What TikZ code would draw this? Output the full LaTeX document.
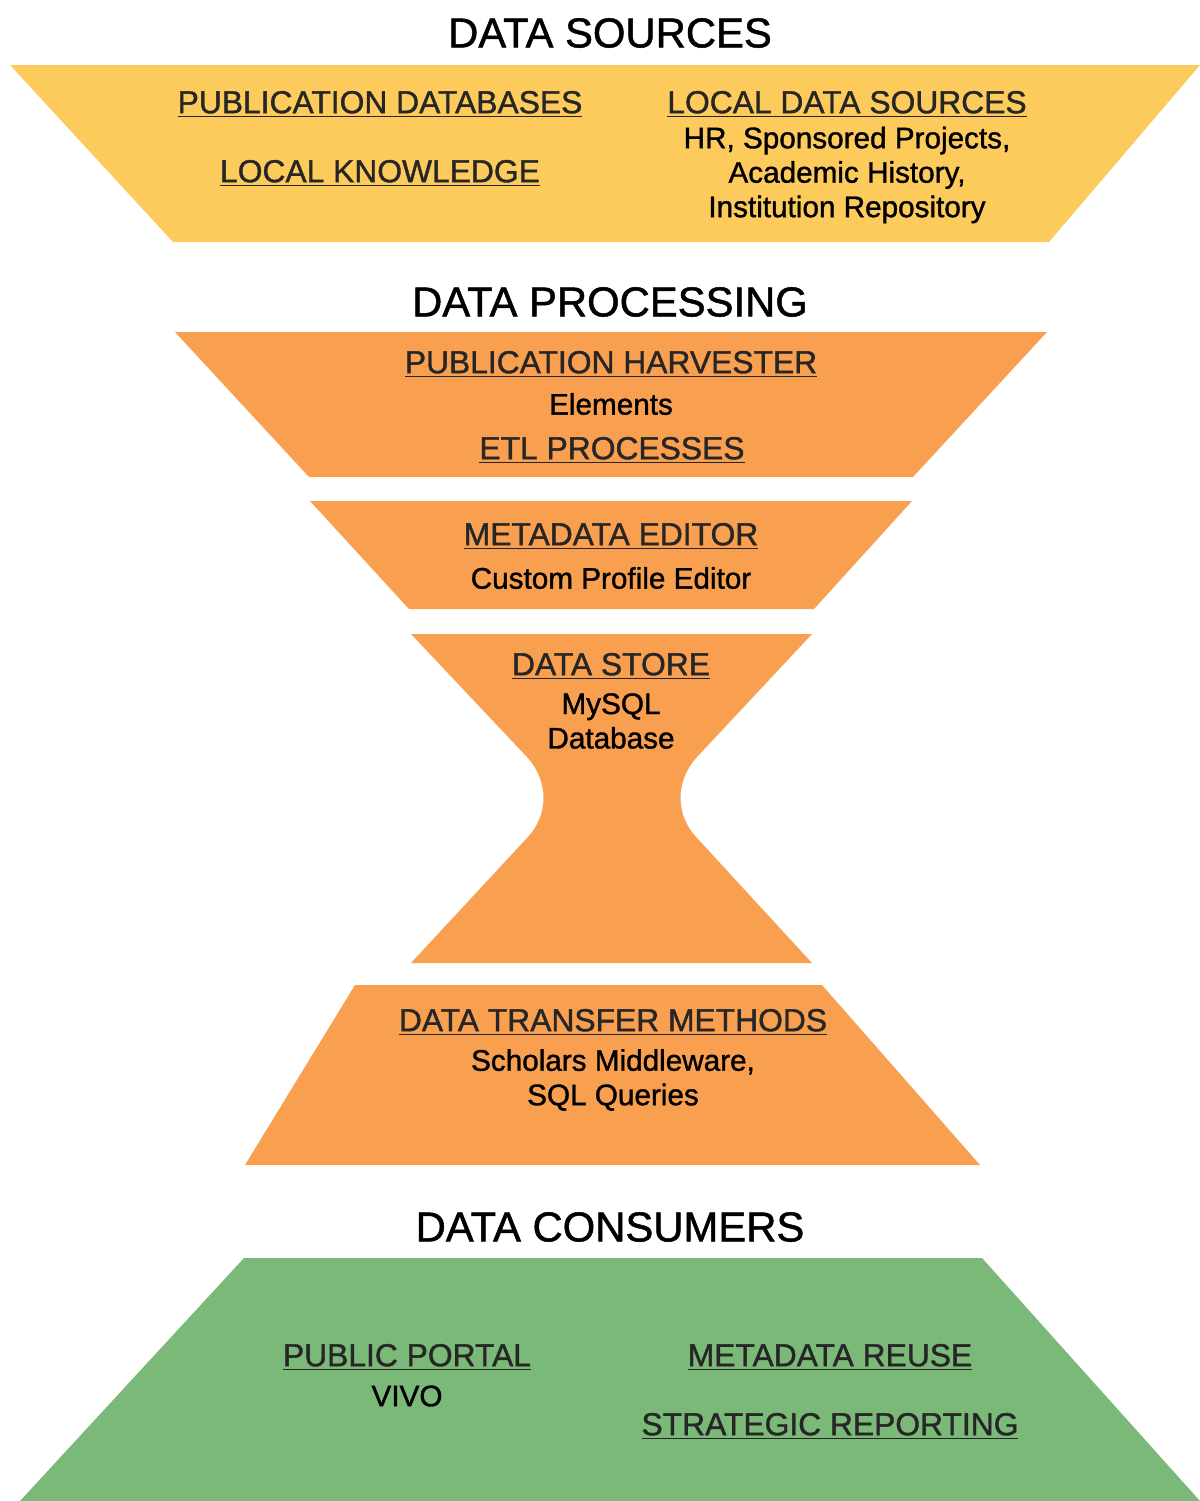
\documentclass[tikz,border=0pt]{standalone}
\usepackage{fontspec}
\setmainfont{Liberation Sans}[UprightFeatures={FakeBold=1.2}]
\definecolor{srcyellow}{HTML}{FDCB5B}
\definecolor{procorange}{HTML}{F89F50}
\definecolor{usegreen}{HTML}{7AB977}
\definecolor{linkgray}{HTML}{262626}
\newcommand{\lnk}[1]{\underline{#1}}

\begin{document}
\begin{tikzpicture}
[
    x=0.02cm, y=-0.02cm,
    heading/.style={font=\fontsize{23.8}{28}\selectfont, text=black},
    linktext/.style={font=\fontsize{18.1}{22}\selectfont, text=linkgray},
    bodytext/.style={font=\fontsize{16.9}{19.6}\selectfont, text=black, align=center},
]
\useasboundingbox (0,0) rectangle (1200,1501);

% funnel shapes
\fill[srcyellow] (10,65) -- (1200,65) -- (1049,242) -- (173,242) -- cycle;
\fill[procorange] (175,332) -- (1047,332) -- (913,477) -- (309,477) -- cycle;
\fill[procorange] (310,501) -- (912,501) -- (814,609) -- (409,609) -- cycle;
\fill[procorange] (411,634) -- (812,634) -- (697,757)
    .. controls (675,781) and (675,815) .. (697,838) -- (812,963) -- (411,963)
    -- (527,838) .. controls (549,815) and (549,781) .. (527,757) -- cycle;
\fill[procorange] (355,985) -- (822,985) -- (980,1165) -- (245,1165) -- cycle;
\fill[usegreen] (244,1258) -- (982,1258) -- (1200,1501) -- (20,1501) -- cycle;

% data sources
\node[heading] (srchead) at (610,33) {DATA SOURCES};
\node[linktext] (pubdb) at (380,104) {\lnk{PUBLICATION DATABASES}};
\node[linktext] (localkn) at (380,173) {\lnk{LOCAL KNOWLEDGE}};
\node[linktext] (localds) at (847,104) {\lnk{LOCAL DATA SOURCES}};
\node[bodytext] (localdstxt) at (847,175) {HR, Sponsored Projects,\\Academic History,\\Institution Repository};

% data processing
\node[heading] (prochead) at (610,302) {DATA PROCESSING};
\node[linktext] (harvester) at (611,364) {\lnk{PUBLICATION HARVESTER}};
\node[bodytext] (elements) at (611,404) {Elements};
\node[linktext] (etl) at (612,450) {\lnk{ETL PROCESSES}};
\node[linktext] (mdeditor) at (611,536) {\lnk{METADATA EDITOR}};
\node[bodytext] (profeditor) at (611,578) {Custom Profile Editor};
\node[linktext] (store) at (611,666) {\lnk{DATA STORE}};
\node[bodytext] (mysql) at (611,721) {MySQL\\Database};
\node[linktext] (transfer) at (613,1022) {\lnk{DATA TRANSFER METHODS}};
\node[bodytext] (middleware) at (613,1080) {Scholars Middleware,\\SQL Queries};

% data consumers
\node[heading] (conshead) at (610,1227) {DATA CONSUMERS};
\node[linktext] (portal) at (407,1357) {\lnk{PUBLIC PORTAL}};
\node[bodytext] (vivo) at (407,1396) {VIVO};
\node[linktext] (reuse) at (830,1357) {\lnk{METADATA REUSE}};
\node[linktext] (reporting) at (830,1426) {\lnk{STRATEGIC REPORTING}};
\end{tikzpicture}
\end{document}
